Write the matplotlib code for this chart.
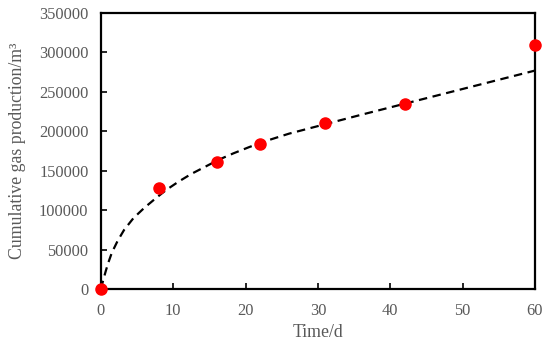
import matplotlib
matplotlib.use("Agg")
import matplotlib.pyplot as plt

# measured data
time_d = [0, 8, 16, 22, 31, 42, 60]
gas_m3 = [0, 128000, 160500, 183500, 210500, 235000, 309000]

# fitted curve
fit_t = [0, 0.3, 0.7, 1.0, 1.5, 2.3, 3.2, 4.5, 6.0, 7.5, 9.0, 10.7, 12.5, 14.4, 16.3, 18.3, 20.5, 22.9, 26, 31, 36, 42, 48, 54, 60]
fit_y = [0, 11000, 24000, 33000, 46000, 61000, 75000, 90000, 103000, 114500, 125500, 136000, 146000, 155000, 164000, 172000, 180000, 188000, 197000, 209000, 221000, 235000, 249000, 263000, 277000]

xticks = [0, 10, 20, 30, 40, 50, 60]
yticks = [0, 50000, 100000, 150000, 200000, 250000, 300000, 350000]

plt.rcParams['font.family'] = ['Liberation Serif', 'DejaVu Serif']

fig = plt.figure(figsize=(5.5, 3.44), dpi=100)
ax = fig.add_axes([0.1836, 0.1599, 0.7891, 0.8023])

ax.plot(fit_t, fit_y, linestyle=(0, (3.8, 2.5)), color='black', linewidth=1.6, zorder=2)
ax.plot(time_d, gas_m3, 'o', color='#ff0000', markersize=8, clip_on=False, zorder=3)

ax.set_xlim(0, 60)
ax.set_ylim(0, 350000)
ax.set_xticks(xticks)
ax.set_yticks(yticks)
ax.tick_params(direction='in', length=4, width=1.2, labelsize=11.8, labelcolor='#595959')
ax.tick_params(axis='x', pad=10)
ax.tick_params(axis='y', pad=9)
for s in ax.spines.values():
    s.set_linewidth(1.6)
    s.set_color('black')

ax.set_xlabel('Time/d', fontsize=12.8, color='#595959', labelpad=4)
ax.set_ylabel('Cumulative gas production/m³', fontsize=12.8, color='#595959', labelpad=9)

fig.savefig('out.png', dpi=100)
